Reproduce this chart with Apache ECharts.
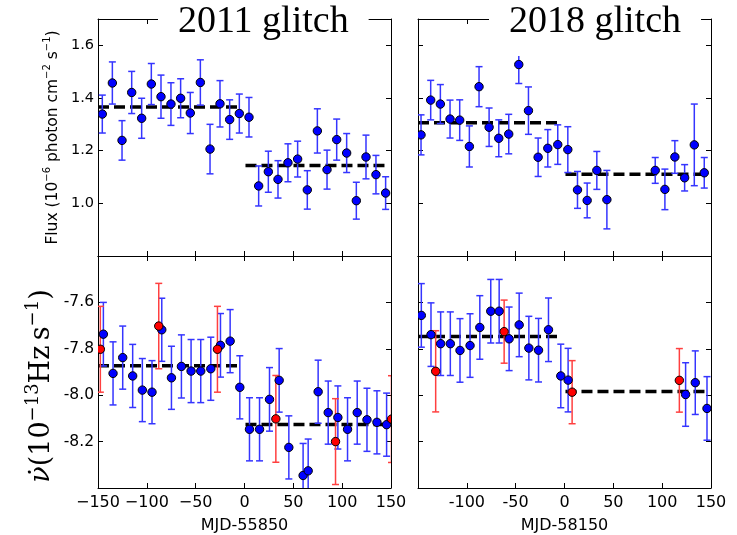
<!DOCTYPE html>
<html>
<head>
<meta charset="utf-8">
<script src="https://cdn.jsdelivr.net/npm/echarts@6/dist/echarts.min.js"></script>
<style>html,body{margin:0;padding:0;background:#fff}#c{width:737px;height:535px}</style>
</head>
<body>
<div id="c"></div>
<script>
// ---------- data ----------
const titles = ['2011 glitch', '2018 glitch'];
const xNames = ['MJD-55850', 'MJD-58150'];
const xTicksLeft = [-150, -100, -50, 0, 50, 100, 150];
const xTicksRight = [-100, -50, 0, 50, 100, 150];
const fluxTicks = [1.0, 1.2, 1.4, 1.6];
const nuTicks = [-7.6, -7.8, -8.0, -8.2];

// Flux, 2011 glitch
const fluxX11 = [-145.6,-135.3,-125.4,-115.5,-105.3,-95.4,-85.5,-75.3,-65.4,-55.5,-45.2,-35.3,-25.1,-15.2,-5.3,4.6,14.5,24.4,34.3,44.5,54.4,64.3,74.6,84.5,94.4,104.6,114.5,124.4,134.6,144.5];
const fluxY11 = [1.339,1.457,1.239,1.421,1.323,1.453,1.405,1.377,1.399,1.343,1.459,1.206,1.378,1.318,1.341,1.327,1.066,1.120,1.091,1.154,1.168,1.051,1.275,1.128,1.242,1.191,1.010,1.176,1.109,1.039];
const fluxE11 = [0.072,0.080,0.075,0.080,0.076,0.078,0.082,0.081,0.074,0.078,0.086,0.094,0.088,0.075,0.074,0.075,0.076,0.078,0.071,0.072,0.068,0.073,0.084,0.074,0.078,0.074,0.070,0.083,0.073,0.062];

// Flux, 2018 glitch
const fluxX18 = [-146.9,-137,-127.1,-117.2,-107.3,-97.4,-87.5,-77.2,-67.3,-57.1,-46.8,-36.9,-27,-17.1,-6.9,3.4,13.3,23.2,33.1,43.4,92.9,102.8,113,123,132.9,143.1];
const fluxY18 = [1.260,1.392,1.377,1.320,1.316,1.216,1.443,1.289,1.247,1.263,1.527,1.352,1.175,1.209,1.223,1.204,1.051,1.011,1.125,1.014,1.125,1.053,1.176,1.097,1.222,1.116];
const fluxE18 = [0.076,0.075,0.074,0.072,0.077,0.078,0.076,0.073,0.070,0.075,0.072,0.090,0.073,0.071,0.075,0.087,0.070,0.066,0.072,0.111,0.049,0.077,0.062,0.050,0.155,0.058];

// nu-dot, 2011 glitch (blue)
const nuX11 = [-144.5,-134.6,-124.7,-114.5,-104.6,-94.7,-84.7,-74.8,-64.6,-54.7,-44.8,-34.5,-24.6,-14.7,-4.8,5.1,15.4,25.6,35.5,45.4,60,65.2,75.4,85.7,95.6,105.5,115.4,125.4,135.6,145.5];
const nuY11 = [-7.737,-7.906,-7.838,-7.917,-7.978,-7.987,-7.718,-7.925,-7.876,-7.896,-7.896,-7.886,-7.785,-7.767,-7.966,-8.147,-8.147,-8.018,-7.936,-8.225,-8.346,-8.326,-7.985,-8.075,-8.096,-8.147,-8.075,-8.106,-8.117,-8.127];
const nuE11 = [0.137,0.136,0.136,0.136,0.136,0.136,0.136,0.136,0.136,0.136,0.136,0.136,0.137,0.136,0.136,0.136,0.136,0.137,0.137,0.136,0.138,0.137,0.136,0.136,0.136,0.136,0.136,0.136,0.136,0.136];
// nu-dot, 2011 glitch (red)
const nuRedX11 = [-147.6,-87.8,-27.7,32.1,93.2,150.5];
const nuRedY11 = [-7.802,-7.702,-7.802,-8.102,-8.200,-8.103];
const nuRedE11 = [0.185,0.184,0.185,0.187,0.185,0.187];

// nu-dot, 2018 glitch (blue)
const nuX18 = [-146.6,-136.7,-126.8,-116.9,-107,-96.7,-86.7,-75.5,-66.9,-56.7,-46.4,-36.5,-26.6,-16.4,-3.8,3.7,124,133.9,145.9];
const nuY18 = [-7.656,-7.739,-7.778,-7.778,-7.807,-7.786,-7.708,-7.638,-7.638,-7.757,-7.697,-7.797,-7.806,-7.718,-7.917,-7.935,-7.997,-7.946,-8.057];
const nuE18 = [0.137,0.137,0.137,0.137,0.137,0.137,0.137,0.137,0.137,0.137,0.137,0.137,0.137,0.137,0.137,0.137,0.137,0.137,0.137];
// nu-dot, 2018 glitch (red)
const nuRedX18 = [-131.9,-61.8,7.8,117.6];
const nuRedY18 = [-7.897,-7.726,-7.987,-7.936];
const nuRedE18 = [0.175,0.136,0.136,0.137];

// mean levels before / after glitch
const preRange = [-150, -7];
const postRange = [1, 144];
const fluxLevels11 = [1.366, 1.144];
const fluxLevels18 = [1.306, 1.110];
const nuLevels11 = [-7.873, -8.126];
const nuLevels18 = [-7.747, -7.984];

// ---------- chart ----------
const BLUE = '#0000ff', BLUE_BAR = '#3535ff', RED = '#ff0000', RED_BAR = '#ff4040';
const grids = [
  {left: 98, top: 19, width: 293, height: 237},
  {left: 418, top: 19, width: 293, height: 237},
  {left: 98, top: 256, width: 293, height: 237},
  {left: 418, top: 256, width: 293, height: 237}
];
const near = (arr, v) => arr.some(t => Math.abs(t - v) < 1e-6);
const tickStyle = {inside: true, length: 5, lineStyle: {color: '#000', width: 1}};
const lineStyle = {onZero: false, lineStyle: {color: '#000', width: 1}};

const xAxes = [], yAxes = [];
for (let g = 0; g < 4; g++) {
  const bottomRow = g >= 2;
  const ticks = g === 2 ? xTicksLeft : xTicksRight;
  xAxes.push({
    gridIndex: g, type: 'value', position: 'bottom', min: -150, max: 150, interval: 50,
    axisLine: lineStyle, axisTick: tickStyle, splitLine: {show: false},
    axisLabel: {
      show: bottomRow, margin: 7, color: '#000', fontFamily: 'DejaVu Sans', fontSize: 16,
      formatter: v => near(ticks, v) ? (g === 2 ? String(v).replace('-', '\u2212') : String(v)) : ''
    },
    name: bottomRow ? xNames[g - 2] : '', nameLocation: 'middle', nameGap: 30,
    nameTextStyle: {color: '#000', fontFamily: 'DejaVu Sans', fontSize: 16}
  });
  xAxes.push({
    gridIndex: g, type: 'value', position: 'top', min: -150, max: 150, interval: 50,
    axisLine: lineStyle, axisTick: tickStyle, splitLine: {show: false}, axisLabel: {show: false}
  });
  const isFlux = g < 2;
  const ymin = isFlux ? 0.8 : -8.4, ymax = isFlux ? 1.7 : -7.4;
  const yt = isFlux ? fluxTicks : nuTicks;
  const leftCol = g % 2 === 0;
  let yName = '', yNameStyle = {}, yGap = 0;
  if (g === 0) {
    yName = 'Flux (10{s|\u22126} photon cm{s|\u22122} s{s|\u22121})';
    yGap = 35;
    yNameStyle = {color: '#000', fontFamily: 'DejaVu Sans', fontSize: 15.5, lineHeight: 21,
      rich: {s: {fontSize: 10, lineHeight: 10, verticalAlign: 'top', fontFamily: 'DejaVu Sans', color: '#000'}}};
  } else if (g === 2) {
    yName = '{n|\u03bd\u0307}(10{s|\u221213}Hz\u2009s{s|\u22121})';
    yGap = 32;
    yNameStyle = {color: '#000', fontFamily: 'DejaVu Serif', fontSize: 27, lineHeight: 36, padding: [0, 28, 0, 0],
      rich: {s: {fontSize: 18, lineHeight: 18, verticalAlign: 'top', fontFamily: 'DejaVu Serif', color: '#000'},
             n: {fontSize: 27, fontStyle: 'italic', fontFamily: 'DejaVu Serif', color: '#000'}}};
  }
  yAxes.push({
    gridIndex: g, type: 'value', position: 'left', min: ymin, max: ymax, interval: 0.2,
    axisLine: lineStyle, axisTick: tickStyle, splitLine: {show: false},
    axisLabel: {
      show: leftCol, margin: 4, color: '#000', fontFamily: 'DejaVu Sans', fontSize: isFlux ? 14.5 : 15.5,
      formatter: v => near(yt, v) ? v.toFixed(1) : ''
    },
    name: yName, nameLocation: 'middle', nameRotate: 90, nameGap: yGap, nameTextStyle: yNameStyle
  });
  yAxes.push({
    gridIndex: g, type: 'value', position: 'right', min: ymin, max: ymax, interval: 0.2,
    axisLine: lineStyle, axisTick: tickStyle, splitLine: {show: false}, axisLabel: {show: false}
  });
}

function zip(xs, ys, es) { return xs.map((x, i) => [x, ys[i], es[i]]); }

function barsSeries(g, data, color) {
  return {
    type: 'custom', xAxisIndex: 2 * g, yAxisIndex: 2 * g, clip: true, z: 3, data: data,
    renderItem: (params, api) => {
      const x = api.value(0), y = api.value(1), e = api.value(2);
      const top = api.coord([x, y + e]), bot = api.coord([x, y - e]);
      const cw = 3.5, st = {stroke: color, lineWidth: 1.5};
      return {type: 'group', children: [
        {type: 'line', shape: {x1: top[0], y1: top[1], x2: bot[0], y2: bot[1]}, style: st},
        {type: 'line', shape: {x1: top[0] - cw, y1: top[1], x2: top[0] + cw, y2: top[1]}, style: st},
        {type: 'line', shape: {x1: bot[0] - cw, y1: bot[1], x2: bot[0] + cw, y2: bot[1]}, style: st}
      ]};
    }
  };
}
function dotsSeries(g, data, color) {
  return {
    type: 'custom', xAxisIndex: 2 * g, yAxisIndex: 2 * g, clip: true, z: 4, data: data,
    renderItem: (params, api) => {
      const p = api.coord([api.value(0), api.value(1)]);
      return {type: 'circle', shape: {cx: p[0], cy: p[1], r: 4.2}, style: {fill: color, stroke: '#000', lineWidth: 1}};
    }
  };
}
function levelSeries(g, levels) {
  const mk = (rng, lv) => ({
    type: 'line', xAxisIndex: 2 * g, yAxisIndex: 2 * g, symbol: 'none', z: 2, silent: true,
    data: [[rng[0], lv], [rng[1], lv]],
    lineStyle: {color: '#000', width: 3.5, type: [11, 5]}
  });
  return [mk(preRange, levels[0]), mk(postRange, levels[1])];
}

const series = [
  ...levelSeries(0, fluxLevels11),
  barsSeries(0, zip(fluxX11, fluxY11, fluxE11), BLUE_BAR),
  dotsSeries(0, zip(fluxX11, fluxY11, fluxE11), BLUE),
  ...levelSeries(1, fluxLevels18),
  barsSeries(1, zip(fluxX18, fluxY18, fluxE18), BLUE_BAR),
  dotsSeries(1, zip(fluxX18, fluxY18, fluxE18), BLUE),
  ...levelSeries(2, nuLevels11),
  barsSeries(2, zip(nuX11, nuY11, nuE11), BLUE_BAR),
  dotsSeries(2, zip(nuX11, nuY11, nuE11), BLUE),
  barsSeries(2, zip(nuRedX11, nuRedY11, nuRedE11), RED_BAR),
  dotsSeries(2, zip(nuRedX11, nuRedY11, nuRedE11), RED),
  ...levelSeries(3, nuLevels18),
  barsSeries(3, zip(nuX18, nuY18, nuE18), BLUE_BAR),
  dotsSeries(3, zip(nuX18, nuY18, nuE18), BLUE),
  barsSeries(3, zip(nuRedX18, nuRedY18, nuRedE18), RED_BAR),
  dotsSeries(3, zip(nuRedX18, nuRedY18, nuRedE18), RED)
];

const titleStyle = {fontFamily: 'Liberation Serif', fontSize: 38, fontWeight: 'normal', color: '#000', lineHeight: 44};
const chart = echarts.init(document.getElementById('c'), null, {renderer: 'canvas'});
chart.setOption({
  animation: false,
  backgroundColor: '#fff',
  title: [
    {text: titles[0], left: 158, top: 0, padding: [0, 20, 12, 20], backgroundColor: '#fff', textStyle: titleStyle, z: 10},
    {text: titles[1], left: 489, top: 0, padding: [0, 20, 12, 20], backgroundColor: '#fff', textStyle: titleStyle, z: 10}
  ],
  grid: grids,
  xAxis: xAxes,
  yAxis: yAxes,
  series: series
});
</script>
</body>
</html>
